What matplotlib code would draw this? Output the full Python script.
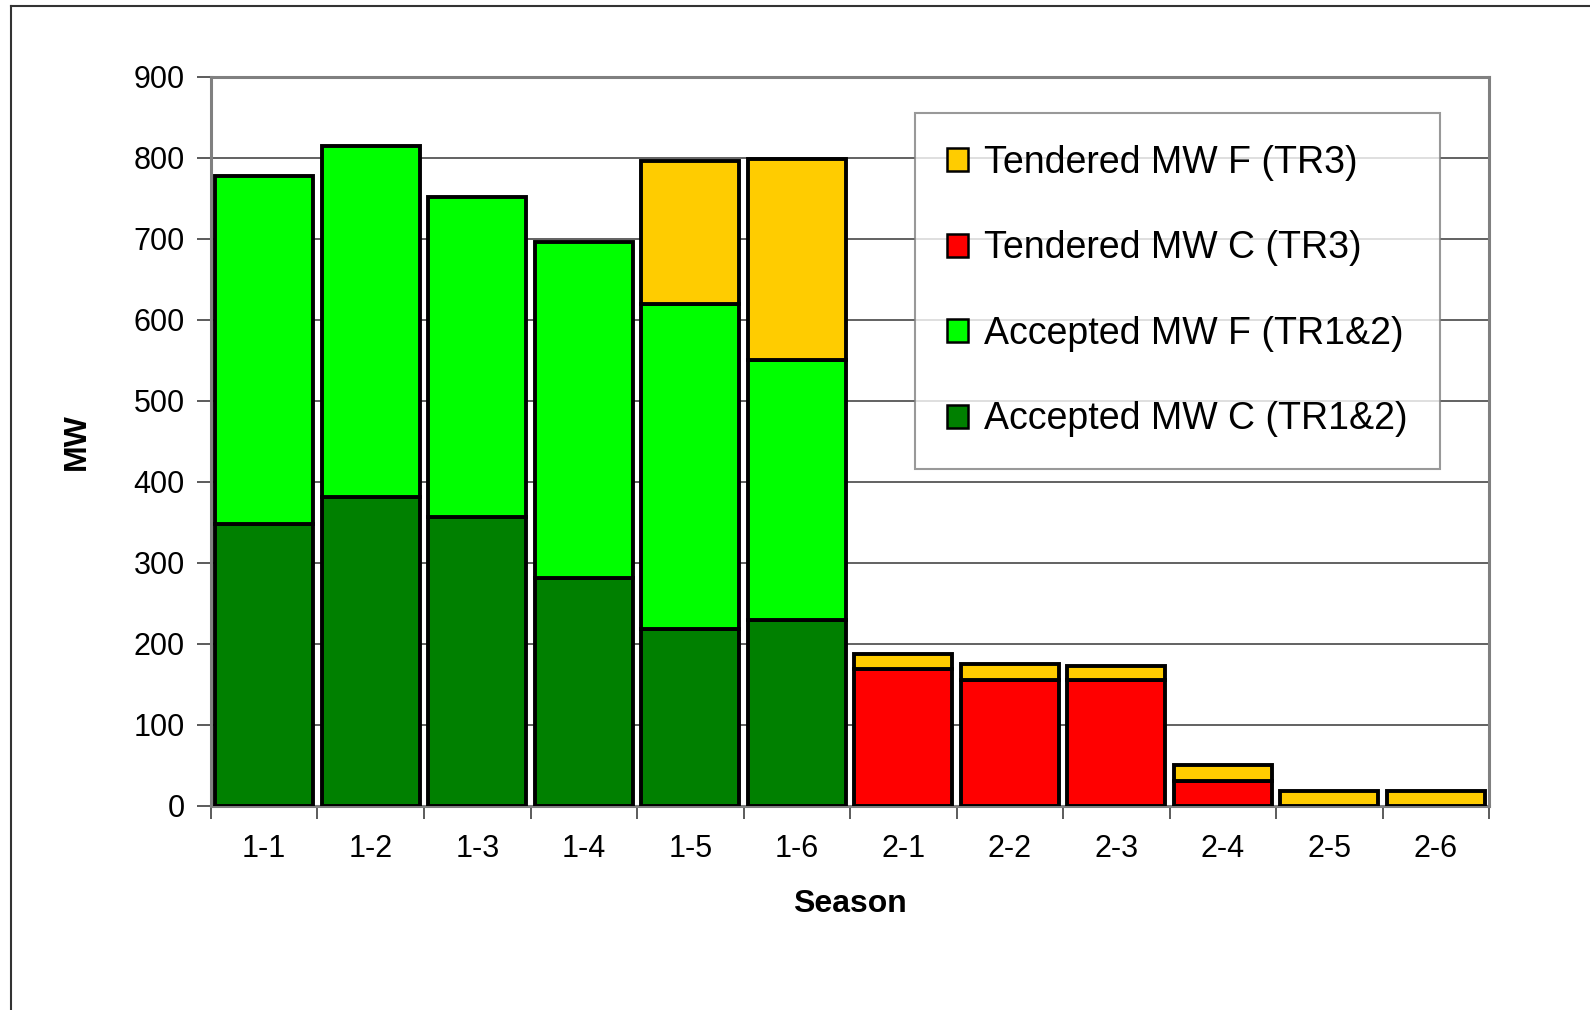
import matplotlib.pyplot as plt
import matplotlib.lines as mlines
import numpy as np

plt.rcParams['font.family'] = ['Liberation Sans', 'DejaVu Sans']

seasons = ["1-1", "1-2", "1-3", "1-4", "1-5", "1-6",
           "2-1", "2-2", "2-3", "2-4", "2-5", "2-6"]
accepted_c = [348, 382, 357, 282, 219, 229, 0, 0, 0, 0, 0, 0]
accepted_f = [430, 433, 395, 414, 401, 322, 0, 0, 0, 0, 0, 0]
tendered_c = [0, 0, 0, 0, 0, 0, 169, 156, 156, 31, 0, 0]
tendered_f = [0, 0, 0, 0, 176, 248, 19, 19, 17, 19, 19, 19]

series = [
    ("Accepted MW C (TR1&2)", accepted_c, "#008000"),
    ("Accepted MW F (TR1&2)", accepted_f, "#00FF00"),
    ("Tendered MW C (TR3)", tendered_c, "#FF0000"),
    ("Tendered MW F (TR3)", tendered_f, "#FFCC00"),
]

fig = plt.figure(figsize=(15.9, 10.1), dpi=100)
ax = fig.add_axes([0.1327, 0.202, 0.8038, 0.7218])

x = np.arange(len(seasons))
bottom = np.zeros(len(seasons))
handles = []
for label, vals, col in series:
    vals = np.array(vals, dtype=float)
    mask = vals > 0
    ax.bar(x[mask], vals[mask], width=0.92, bottom=bottom[mask], color=col,
           edgecolor="black", linewidth=2.8, zorder=3)
    handles.append(plt.Rectangle((0, 0), 1, 1, facecolor=col,
                                 edgecolor="black", linewidth=1.8, label=label))
    bottom += vals

ax.set_xlim(-0.5, 11.5)
ax.set_ylim(0, 900)
ax.set_yticks(range(0, 901, 100))
ax.set_xticks(x)
ax.set_xticklabels(seasons)
ax.set_xticks(np.arange(-0.5, 12, 1), minor=True)
ax.tick_params(axis="x", which="major", length=0, pad=20, labelsize=22)
ax.tick_params(axis="x", which="minor", length=9, width=1.2, color="#404040")
ax.tick_params(axis="y", length=10, width=1.2, color="#404040", pad=9, labelsize=22)

ax.grid(axis="y", color="#555555", linewidth=1.3, zorder=0)
for s in ax.spines.values():
    s.set_color("#808080")
    s.set_linewidth(2.2)

ax.set_ylabel("MW", fontsize=23, fontweight="bold", labelpad=30)
ax.set_xlabel("Season", fontsize=23, fontweight="bold", labelpad=18)

leg = ax.legend(handles=handles[::-1], loc="upper left",
                bbox_to_anchor=(0.5755, 0.888), bbox_transform=fig.transFigure,
                borderaxespad=0, fontsize=27, frameon=True, fancybox=False,
                edgecolor="#808080", handlelength=0.55, handleheight=0.55,
                handletextpad=0.45, labelspacing=1.32, borderpad=0.85)
leg.get_frame().set_linewidth(1.5)

# outer chart border (top and left visible)
fig.add_artist(mlines.Line2D([11 / 1590, 11 / 1590], [0, 1 - 6 / 1010],
                             transform=fig.transFigure, color="#333333", linewidth=1.5))
fig.add_artist(mlines.Line2D([11 / 1590, 1], [1 - 6 / 1010, 1 - 6 / 1010],
                             transform=fig.transFigure, color="#333333", linewidth=1.5))

fig.savefig("out.png", dpi=100)
